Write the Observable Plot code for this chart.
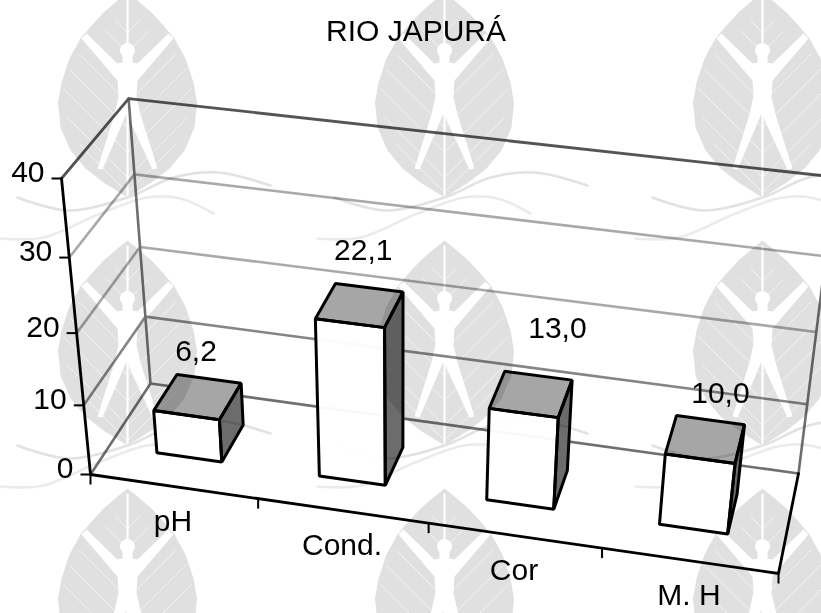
<!DOCTYPE html>
<html><head><meta charset="utf-8">
<style>html,body{margin:0;padding:0;background:#fff}svg{display:block}</style>
<script src="https://cdn.jsdelivr.net/npm/d3@7"></script>
<script src="https://cdn.jsdelivr.net/npm/@observablehq/plot@0.6"></script>
</head><body><div id="chart"></div>
<script>
// ---- data ----
const categories = ["pH", "Cond.", "Cor", "M. H"];
const values = [6.2, 22.1, 13.0, 10.0];
const valueLabels = ["6,2", "22,1", "13,0", "10,0"];
const yTicks = [0, 10, 20, 30, 40];
const title = "RIO JAPURÁ";

// ---- perspective camera: floor corners and vertical vanishing point ----
const W = 821, H = 613;
const floor = [[90,474],[778,573],[798,473],[150,383]];
const vanish = [400,3640], lift = 0.0855/40;
const nCat = categories.length;
const [x0,y0]=floor[0],[x1,y1]=floor[1],[x2,y2]=floor[2],[x3,y3]=floor[3];
const dx1=x1-x2,dx2=x3-x2,sx=x0-x1+x2-x3,dy1=y1-y2,dy2=y3-y2,sy=y0-y1+y2-y3,den=dx1*dy2-dx2*dy1;
const g_=(sx*dy2-dx2*sy)/den,h_=(dx1*sy-sx*dy1)/den;
const a_=x1-x0+g_*x1,b_=x3-x0+h_*x3,d_=y1-y0+g_*y1,e_=y3-y0+h_*y3;
function P(u,v,w){ // category position, value, depth -> screen
  const s=u/nCat,t=-v*lift*(1+0.03*s);
  const X=a_*s+b_*w+x0+t*vanish[0],Y=d_*s+e_*w+y0+t*vanish[1],Z=g_*s+h_*w+1+t;
  return {x:X/Z,y:Y/Z};
}
const seg=(id,pts,extra={})=>pts.map(p=>({id,...p,...extra}));

// ---- chart frame ----
const vmax=40;
const gridBack=yTicks.slice(1,-1).flatMap(v=>seg("b"+v,[P(0,v,0),P(0,v,1),P(nCat,v,1)],{c:v===10?"#858585":"#a9a9a9"}));
const frameGray=[
  seg("f1",[P(0,0,0),P(0,0,1),P(nCat,0,1)]),
  seg("f2",[P(0,vmax,0),P(0,vmax,1),P(nCat,vmax,1)]),
  seg("f3",[P(0,0,1),P(0,vmax,1)]),
  seg("f4",[P(nCat,0,1),P(nCat,vmax,1)])
].flat();
const frameBlack=[
  seg("k1",[P(0,vmax,0),P(0,0,0),P(nCat,0,0),P(nCat,0,1)])
].flat();
const uTicks=d3.range(0,nCat+1).map(i=>P(i,0,0));
const vTicks=yTicks.map(v=>({v,...P(0,v,0)}));

// ---- bars ----
const bw=0.197,wa=0.3,wb=0.7,bc=0.47,nudge=[0.018,0,-0.005,0.005];
const faces=(name,fn)=>values.flatMap((v,i)=>seg(name+i,fn(i+bc+nudge[i],v)));
const front=faces("fr",(c,v)=>[P(c-bw,0,wa),P(c+bw,0,wa),P(c+bw,v,wa),P(c-bw,v,wa)]);
const top_=faces("tp",(c,v)=>[P(c-bw,v,wa),P(c+bw,v,wa),P(c+bw,v,wb),P(c-bw,v,wb)]);
const side=faces("sd",(c,v)=>[P(c+bw,0,wa),P(c+bw,0,wb),P(c+bw,v,wb),P(c+bw,v,wa)]);
const valueOffsets=[[-13,-28],[-6,-37],[19,-47],[10,-27]];
const valueText=values.map((v,i)=>{const p=P(i+bc+nudge[i],v,wb);return {t:valueLabels[i],x:p.x+valueOffsets[i][0],y:p.y+valueOffsets[i][1]};});
const catText=categories.map((t,i)=>({t,...P(i+0.5,0,0)}));

// ---- watermark (leaf emblem, in local leaf units) ----
const markCols=[127,444,762], markRows=[-8,240,488];
const leafL=[[0,0],[-10,8],[-24,20],[-36,33],[-47,46],[-58,66],[-66,90],[-69.5,110],[-67,135],[-57,158],[-42,176],[-24,190],[-8,200],[0,205]];
const leafShape=[...leafL,...leafL.slice(1,-1).reverse().map(([x,y])=>[-x,y])];
const figL=[[-5,60],[-5,70],[-10,71],[-41,41],[-46,46],[-10,88],[-9,104],[-13,122],[-30,176],[-25,177],[-1,121]];
const figShape=[...figL,...figL.slice(0,-1).reverse().map(([x,y])=>[-x,y])];
const veinStarts=[[40,12],[60,22],[85,36],[110,48],[135,58],[160,64],[185,60],[200,48]];
const waveA=[[-110,205],[-60,218],[0,205],[46,185],[90,180],[143,193]];
const waveB=[[-127,246],[-84,245],[-27,221],[20,205],[53,206],[86,221]];
const leaves=[],figs=[],heads=[],veins=[],ribs=[],wavesA=[],wavesB=[];
let n=0;
for(const cx of markCols)for(const ty of markRows){n++;
  const at=([x,y])=>({x:cx+x,y:ty+y});
  leaves.push(...seg("l"+n,leafShape.map(at)));
  figs.push(...seg("g"+n,figShape.map(at)));
  heads.push(at([0,58]));
  ribs.push(...seg("r1"+n,[at([0,6]),at([0,52])]));
  ribs.push(...seg("r2"+n,[at([0,122]),at([0,204])]));
  veinStarts.forEach(([s,d],j)=>{for(const sg of [-1,1])veins.push(...seg("v"+n+j+sg,[at([0,s]),at([sg*d,s-d])]));});
  wavesA.push(...seg("a"+n,waveA.map(at)));
  wavesB.push(...seg("c"+n,waveB.map(at)));
}
const wm=()=>({render(i,s,v,d,c,next){const g=next(i,s,v,d,c);g.setAttribute("data-wm","1");return g;}});
const xy={x:"x",y:"y",z:"id"};
const poly=(data,o)=>Plot.line(data,{...xy,curve:"linear-closed",strokeLinejoin:"miter",...o});
const font="Liberation Sans, Arial, sans-serif";
const solidUnder=[...top_,...side];

const plot=Plot.plot({
  width:W,height:H,margin:0,
  style:{background:"#fff",overflow:"hidden"},
  x:{domain:[0,W],range:[0,W],axis:null},
  y:{domain:[0,H],range:[0,H],axis:null},
  marks:[
    // walls
    Plot.line(gridBack,{...xy,stroke:"c",strokeWidth:2.6}),
    Plot.line(frameGray.filter(d=>d.id!=="f2"),{...xy,stroke:"#6f6f6f",strokeWidth:2.6}),
    Plot.line(frameGray.filter(d=>d.id==="f2"),{...xy,stroke:"#555",strokeWidth:2.8}),
    poly(solidUnder,{fill:"#fff"}),
    // watermark group (multiplied over walls and bar tops)
    poly(leaves,{fill:"#e0e0e0",...wm()}),
    Plot.line(veins,{...xy,stroke:"#fff",strokeWidth:0.6,...wm()}),
    Plot.line(ribs,{...xy,stroke:"#fff",strokeWidth:2.2,...wm()}),
    poly(figs,{fill:"#fff",...wm()}),
    Plot.dot(heads,{x:"x",y:"y",r:7.5,fill:"#fff",...wm()}),
    Plot.line(wavesA,{...xy,stroke:"#e2e2e2",strokeWidth:2.6,curve:"catmull-rom",...wm()}),
    Plot.line(wavesB,{...xy,stroke:"#ebebeb",strokeWidth:2.6,curve:"catmull-rom",...wm()}),
    // bars
    poly(top_,{fill:"#a6a6a6",mixBlendMode:"multiply"}),
    poly(side,{fill:"#6c6c6c",mixBlendMode:"multiply"}),
    poly(front,{fill:"#fff",fillOpacity:0.96}),
    poly(top_,{stroke:"#000",strokeWidth:3}),
    poly(side,{stroke:"#000",strokeWidth:3}),
    poly(front,{stroke:"#000",strokeWidth:3}),
    // axes
    Plot.line(frameBlack,{...xy,stroke:"#000",strokeWidth:2.8}),
    Plot.link(vTicks,{x1:d=>d.x-10,x2:"x",y1:"y",y2:"y",stroke:"#000",strokeWidth:2}),
    Plot.link(uTicks,{x1:"x",x2:"x",y1:"y",y2:d=>d.y+10,stroke:"#000",strokeWidth:2}),
    // text
    Plot.text(vTicks,{x:"x",y:"y",text:d=>String(d.v),dx:-17,dy:-6,textAnchor:"end",lineAnchor:"middle",fontSize:30,fontFamily:font,fill:"#000",letterSpacing:"-0.6px"}),
    Plot.text(catText,{x:"x",y:"y",text:"t",dx:-1,dy:35,lineAnchor:"middle",fontSize:30,fontFamily:font,fill:"#000",letterSpacing:"-0.4px"}),
    Plot.text(valueText,{x:"x",y:"y",text:"t",lineAnchor:"middle",fontSize:30,fontFamily:font,fill:"#000",letterSpacing:"-0.2px"}),
    Plot.text([title],{x:()=>W/2,y:()=>0,text:d=>d,dx:5,dy:31,lineAnchor:"middle",fontSize:30,fontFamily:font,fill:"#000",letterSpacing:"-1.2px"})
  ]
});
// group the watermark so its white cut-outs hold when it is multiplied
const parts=[...plot.querySelectorAll("[data-wm]")];
const wrap=document.createElementNS("http://www.w3.org/2000/svg","g");
wrap.setAttribute("style","mix-blend-mode:multiply");
parts[0].parentNode.insertBefore(wrap,parts[0]);
parts.forEach(p=>wrap.appendChild(p));
document.getElementById("chart").append(plot);
</script></body></html>
